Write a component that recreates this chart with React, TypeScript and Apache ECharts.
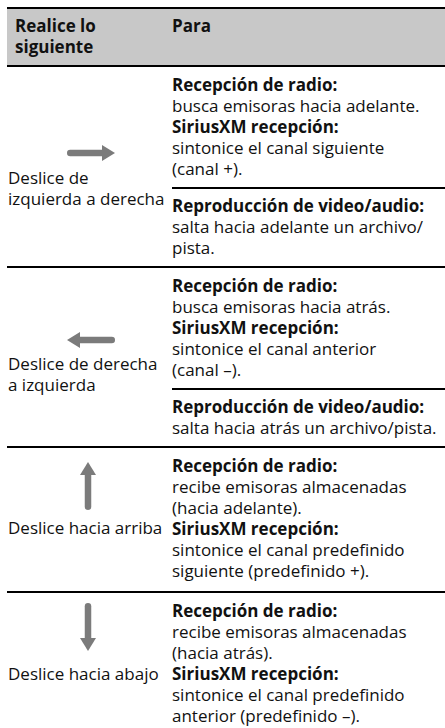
import React, { useEffect, useRef } from "react";
import * as echarts from "echarts";

// ---------- content ----------
const headerLeft = ["Realice lo", "siguiente"];
const headerRight = ["Para"];

const gestureLabels = [
  ["Deslice de", "izquierda a derecha"],
  ["Deslice de derecha", "a izquierda"],
  ["Deslice hacia arriba"],
  ["Deslice hacia abajo"],
];
const gestureDirections = ["right", "left", "up", "down"];

type Para = { head: string; body: string[] };
const row1Blocks: Para[][] = [
  [
    { head: "Recepción de radio:", body: ["busca emisoras hacia adelante."] },
    { head: "SiriusXM recepción:", body: ["sintonice el canal siguiente", "(canal +)."] },
  ],
  [
    { head: "Reproducción de video/audio:", body: ["salta hacia adelante un archivo/", "pista."] },
  ],
];
const row2Blocks: Para[][] = [
  [
    { head: "Recepción de radio:", body: ["busca emisoras hacia atrás."] },
    { head: "SiriusXM recepción:", body: ["sintonice el canal anterior", "(canal –)."] },
  ],
  [
    { head: "Reproducción de video/audio:", body: ["salta hacia atrás un archivo/pista."] },
  ],
];
const row3Blocks: Para[][] = [
  [
    { head: "Recepción de radio:", body: ["recibe emisoras almacenadas", "(hacia adelante)."] },
    { head: "SiriusXM recepción:", body: ["sintonice el canal predefinido", "siguiente (predefinido +)."] },
  ],
];
const row4Blocks: Para[][] = [
  [
    { head: "Recepción de radio:", body: ["recibe emisoras almacenadas", "(hacia atrás)."] },
    { head: "SiriusXM recepción:", body: ["sintonice el canal predefinido", "anterior (predefinido –)."] },
  ],
];
const rows = [row1Blocks, row2Blocks, row3Blocks, row4Blocks];

// ---------- layout ----------
const W = 445;
const H = 728;
const TABLE_LEFT = 7;
const COL1_X = 8;
const HEADER_X = 15;
const COL2_X = 172;
const TOP_LINE = 8;
const HEADER_BOTTOM = 66;
const HEADER_FIRST = 25;
const PITCH = 21;
const FIRST = 18;
const SEP_AFTER = 19.5;
const AFTER_SEP = 17.5;
const rowExtra = [0, 0, 2, 0];
const arrowOffset = [87, 73, 39, 35];
const labelOffset = [111, 96, 80, 81];
const ARROW_LEN = 48;
const HEAD_LEN = 13;
const HEAD_W = 16;
const SHAFT_W = 6.5;
const H_ARROW_X = 91;
const V_ARROW_X = 88;

const FONT = '"Open Sans", "Noto Sans", sans-serif';
const FS = 17;
const TEXT_COLOR = "#111";
const ARROW_COLOR = "#7b7b7b";
const HEADER_BG = "#c8c8c8";

function txt(x: number, y: number, text: string, bold: boolean) {
  return {
    type: "text",
    x,
    y,
    silent: true,
    style: {
      text,
      fill: TEXT_COLOR,
      fontSize: FS,
      fontFamily: FONT,
      fontWeight: bold ? "bold" : "normal",
      textVerticalAlign: "middle",
      textAlign: "left",
    },
  };
}

function hline(x1: number, x2: number, y: number, w = 2) {
  return {
    type: "line",
    silent: true,
    shape: { x1, y1: y, x2, y2: y },
    style: { stroke: "#000", lineWidth: w },
  };
}

function arrow(cx: number, cy: number, dir: string) {
  const d =
    dir === "right" ? [1, 0] : dir === "left" ? [-1, 0] : dir === "up" ? [0, -1] : [0, 1];
  const p = [-d[1], d[0]];
  const tail = [cx - (d[0] * ARROW_LEN) / 2, cy - (d[1] * ARROW_LEN) / 2];
  const tip = [cx + (d[0] * ARROW_LEN) / 2, cy + (d[1] * ARROW_LEN) / 2];
  const base = [tip[0] - d[0] * HEAD_LEN, tip[1] - d[1] * HEAD_LEN];
  const shaftEnd = [base[0] + d[0] * 1, base[1] + d[1] * 1];
  const tailIn = [tail[0] + (d[0] * SHAFT_W) / 2, tail[1] + (d[1] * SHAFT_W) / 2];
  return [
    {
      type: "line",
      silent: true,
      shape: { x1: tailIn[0], y1: tailIn[1], x2: shaftEnd[0], y2: shaftEnd[1] },
      style: { stroke: ARROW_COLOR, lineWidth: SHAFT_W, lineCap: "round" },
    },
    {
      type: "polygon",
      silent: true,
      shape: {
        points: [
          tip,
          [base[0] + (p[0] * HEAD_W) / 2, base[1] + (p[1] * HEAD_W) / 2],
          [base[0] - (p[0] * HEAD_W) / 2, base[1] - (p[1] * HEAD_W) / 2],
        ],
      },
      style: { fill: ARROW_COLOR },
    },
  ];
}

function buildElements() {
  const els: any[] = [];
  els.push({
    type: "rect",
    silent: true,
    shape: { x: TABLE_LEFT, y: TOP_LINE, width: W - TABLE_LEFT, height: HEADER_BOTTOM - TOP_LINE },
    style: { fill: HEADER_BG },
  });
  els.push(hline(TABLE_LEFT, W, TOP_LINE));
  els.push(hline(TABLE_LEFT, W, HEADER_BOTTOM));
  headerLeft.forEach((t, i) => els.push(txt(HEADER_X, HEADER_FIRST + i * 21, t, true)));
  headerRight.forEach((t, i) => els.push(txt(COL2_X, HEADER_FIRST + i * 21, t, true)));

  let y = HEADER_BOTTOM;
  rows.forEach((blocks, r) => {
    const top = y;
    let cy = top + FIRST;
    blocks.forEach((block, b) => {
      if (b > 0) {
        const sepY = Math.round(cy - PITCH + SEP_AFTER);
        els.push(hline(COL2_X, W, sepY));
        cy = sepY + AFTER_SEP;
      }
      block.forEach((para) => {
        els.push(txt(COL2_X, cy, para.head, true));
        cy += PITCH;
        para.body.forEach((l) => {
          els.push(txt(COL2_X, cy, l, false));
          cy += PITCH;
        });
      });
    });
    const bottom = Math.round(cy - PITCH + SEP_AFTER + rowExtra[r]);
    if (r < rows.length - 1) els.push(hline(TABLE_LEFT, W, bottom));
    const dir = gestureDirections[r];
    const ax = dir === "right" || dir === "left" ? H_ARROW_X : V_ARROW_X;
    els.push(...arrow(ax, top + arrowOffset[r], dir));
    gestureLabels[r].forEach((t, i) =>
      els.push(txt(COL1_X, top + labelOffset[r] + i * PITCH, t, false))
    );
    y = bottom;
  });
  return els;
}

export default function App() {
  const ref = useRef<HTMLDivElement>(null);
  useEffect(() => {
    if (!ref.current) return;
    const chart = echarts.init(ref.current, undefined, { renderer: "svg" });
    chart.setOption({
      animation: false,
      backgroundColor: "#fff",
      graphic: { elements: buildElements() },
    });
    return () => chart.dispose();
  }, []);
  return (
    <div
      ref={ref}
      style={{ position: "fixed", left: 0, top: 0, width: W, height: H, background: "#fff" }}
    />
  );
}
